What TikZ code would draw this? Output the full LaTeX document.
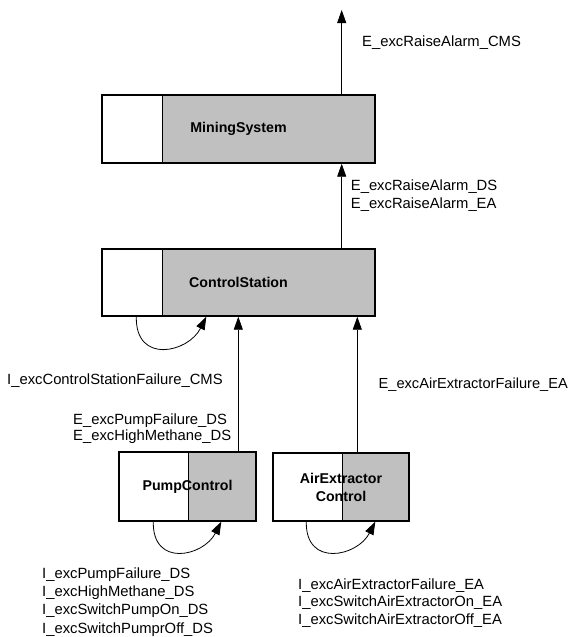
\documentclass[tikz,border=0pt]{standalone}
\usepackage{fontspec}
\setmainfont{Liberation Sans}
\usetikzlibrary{arrows.meta,calc}
\definecolor{boxgray}{HTML}{C0C0C0}
\tikzset{
  comp/.style={draw, line width=1.4pt, inner sep=0pt, align=center,
    font=\fontsize{14.2}{18}\selectfont\bfseries,
    path picture={
      \fill[boxgray] ([xshift=#1]path picture bounding box.south west)
        rectangle (path picture bounding box.north east);
      \draw[line width=0.8pt] ([xshift=#1]path picture bounding box.south west)
        -- ([xshift=#1]path picture bounding box.north west);
    }},
  lbl/.style={anchor=west, align=left, inner sep=0pt,
    font=\fontsize{14.8}{18.2}\selectfont},
  flow/.style={line width=0.8pt, -{Triangle[length=13pt,width=9pt]}},
}
\begin{document}
\begin{tikzpicture}[x=1pt, y=-1pt]
\useasboundingbox (0,0) rectangle (570,637);

% components
\node[comp=60pt, minimum width=273pt, minimum height=68pt] (ms) at (238.5,129) {MiningSystem};
\node[comp=60pt, minimum width=273pt, minimum height=67pt] (cs) at (238.5,282.5) {ControlStation};
\node[comp=69pt, minimum width=137pt, minimum height=69pt] (pump) at (187.5,486.5) {PumpControl};
\node[comp=69pt, minimum width=136pt, minimum height=68pt] (ae) at (341,487) {AirExtractor\\Control};

% exceptions raised upwards
\coordinate (sky) at (341.7,10);
\draw[flow] (ms.north -| sky) -- (sky);
\draw[flow] (cs.north -| sky) -- (ms.south -| sky);
\draw[flow] ([xshift=120pt]pump.north west) -- ([xshift=120pt]pump.north west |- cs.south);
\draw[flow] ([xshift=85pt]ae.north west) -- ([xshift=85pt]ae.north west |- cs.south);

% internal exceptions handled locally
\draw[flow] ([xshift=35pt]cs.south west) .. controls +(-1,48) and +(-18,36) .. ([xshift=105pt]cs.south west);
\draw[flow] ([xshift=35pt]pump.south west) .. controls +(-1,46) and +(-18,35) .. ([xshift=103pt]pump.south west);
\draw[flow] ([xshift=34pt]ae.south west) .. controls +(-1,46) and +(-18,35) .. ([xshift=103pt]ae.south west);

% labels
\node[lbl] (lcms) at (362,43) {E\_excRaiseAlarm\_CMS};
\node[lbl] (lcs) at (350.7,196) {E\_excRaiseAlarm\_DS\\E\_excRaiseAlarm\_EA};
\node[lbl] (lcsf) at (7,381) {I\_excControlStationFailure\_CMS};
\node[lbl, font=\fontsize{14.8}{16.3}\selectfont] (lpump) at (73,429) {E\_excPumpFailure\_DS\\E\_excHighMethane\_DS};
\node[lbl, font=\fontsize{14.6}{18}\selectfont] (lae) at (378.5,385) {E\_excAirExtractorFailure\_EA};
\node[lbl] (lpumpi) at (42,602) {I\_excPumpFailure\_DS\\I\_excHighMethane\_DS\\I\_excSwitchPumpOn\_DS\\I\_excSwitchPumprOff\_DS};
\node[lbl, font=\fontsize{14.8}{17.5}\selectfont] (laei) at (298,603) {I\_excAirExtractorFailure\_EA\\I\_excSwitchAirExtractorOn\_EA\\I\_excSwitchAirExtractorOff\_EA};
\end{tikzpicture}
\end{document}
